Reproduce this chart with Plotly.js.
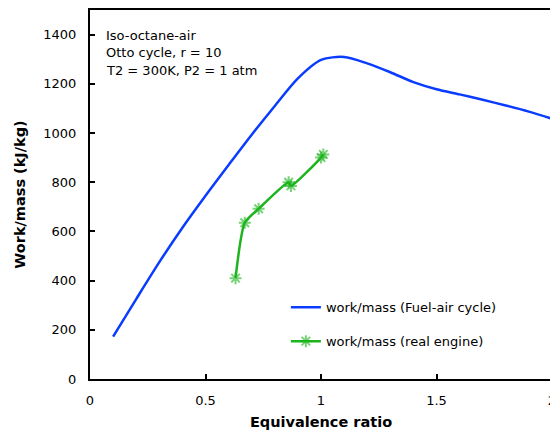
<!DOCTYPE html>
<html>
<head>
<meta charset="utf-8">
<script src="https://cdn.plot.ly/plotly-3.0.1.min.js"></script>
<style>html,body{margin:0;padding:0;overflow:hidden;background:#fff;}</style>
</head>
<body>
<div id="chart"></div>
<script>
// Fuel-air cycle (theoretical) work per unit mass
const phiCycle = [0.1, 0.2, 0.3, 0.4, 0.5, 0.6, 0.7, 0.8, 0.9, 1.0, 1.1, 1.2, 1.3, 1.4, 1.5, 1.6, 1.7, 1.8, 1.9, 2.0];
const workCycle = [172, 325, 475, 615, 745, 870, 993, 1110, 1222, 1297, 1309, 1283, 1247, 1207, 1178, 1157, 1135, 1112, 1087, 1058];
// Real engine measurements
const phiEngine = [0.63, 0.67, 0.73, 0.86, 0.87, 1.0, 1.01];
const workEngine = [410, 635, 692, 800, 785, 900, 913];

const seriesNames = ["work/mass (Fuel-air cycle)", "work/mass (real engine)"];
const noteLines = ["Iso-octane-air", "Otto cycle, r = 10", "T2 = 300K, P2 = 1 atm"];
const xTicks = [0, 0.5, 1, 1.5, 2];
const xTickText = ["0", "0.5", "1", "1.5", "2"];
const yTicks = [0, 200, 400, 600, 800, 1000, 1200, 1400];

const FONT = "DejaVu Sans, Verdana, sans-serif";

const traces = [
  {
    x: phiCycle, y: workCycle, type: "scatter", mode: "lines",
    name: seriesNames[0], legendgroup: "a",
    line: {color: "#0a3cff", width: 2.5, shape: "spline", smoothing: 0.8}
  },
  {
    x: phiEngine, y: workEngine, type: "scatter", mode: "lines+markers",
    name: seriesNames[1], legendgroup: "b",
    line: {color: "#1db41d", width: 2.5, shape: "spline", smoothing: 0.6},
    marker: {symbol: "asterisk-open", size: 10, color: "#1db41d", opacity: 0.6,
             line: {color: "#5ad25a", width: 2}}
  }
];

const noteY = [0.9322, 0.8835, 0.8347];
const annotations = noteLines.map((t, i) => ({
  text: t, xref: "paper", yref: "paper", x: 0.030, y: noteY[i],
  xanchor: "left", yanchor: "middle", showarrow: false,
  font: {family: FONT, size: 13, color: "#000"}
}));

const layout = {
  width: 560, height: 435,
  margin: {l: 90, r: 8, t: 10, b: 56},
  paper_bgcolor: "#fff", plot_bgcolor: "#fff",
  font: {family: FONT, size: 13, color: "#000"},
  showlegend: true,
  legend: {
    x: 0.424, y: 0.235, xanchor: "left", yanchor: "top",
    bgcolor: "rgba(0,0,0,0)", tracegroupgap: 14,
    font: {family: FONT, size: 13, color: "#000"}
  },
  xaxis: {
    range: [0, 2], tickvals: xTicks, ticktext: xTickText,
    showgrid: false, zeroline: false,
    showline: true, linecolor: "#000", linewidth: 2, mirror: true,
    ticks: "inside", ticklen: 5, tickwidth: 2, tickcolor: "#000",
    ticklabelstandoff: 8, ticklabeloverflow: "allow",
    tickfont: {family: FONT, size: 13, color: "#000"},
    title: {text: "<b>Equivalence ratio</b>", font: {family: FONT, size: 14.5, color: "#000"}, standoff: 10}
  },
  yaxis: {
    range: [0, 1500], tickvals: yTicks,
    showgrid: false, zeroline: false,
    showline: true, linecolor: "#000", linewidth: 2, mirror: true,
    ticks: "inside", ticklen: 5, tickwidth: 2, tickcolor: "#000",
    ticklabelstandoff: 9,
    tickfont: {family: FONT, size: 13, color: "#000"},
    title: {text: "<b>Work/mass (kJ/kg)</b>", font: {family: FONT, size: 14.5, color: "#000"}, standoff: 14}
  },
  annotations: annotations
};

Plotly.newPlot("chart", traces, layout, {displayModeBar: false, staticPlot: true});
</script>
</body>
</html>
